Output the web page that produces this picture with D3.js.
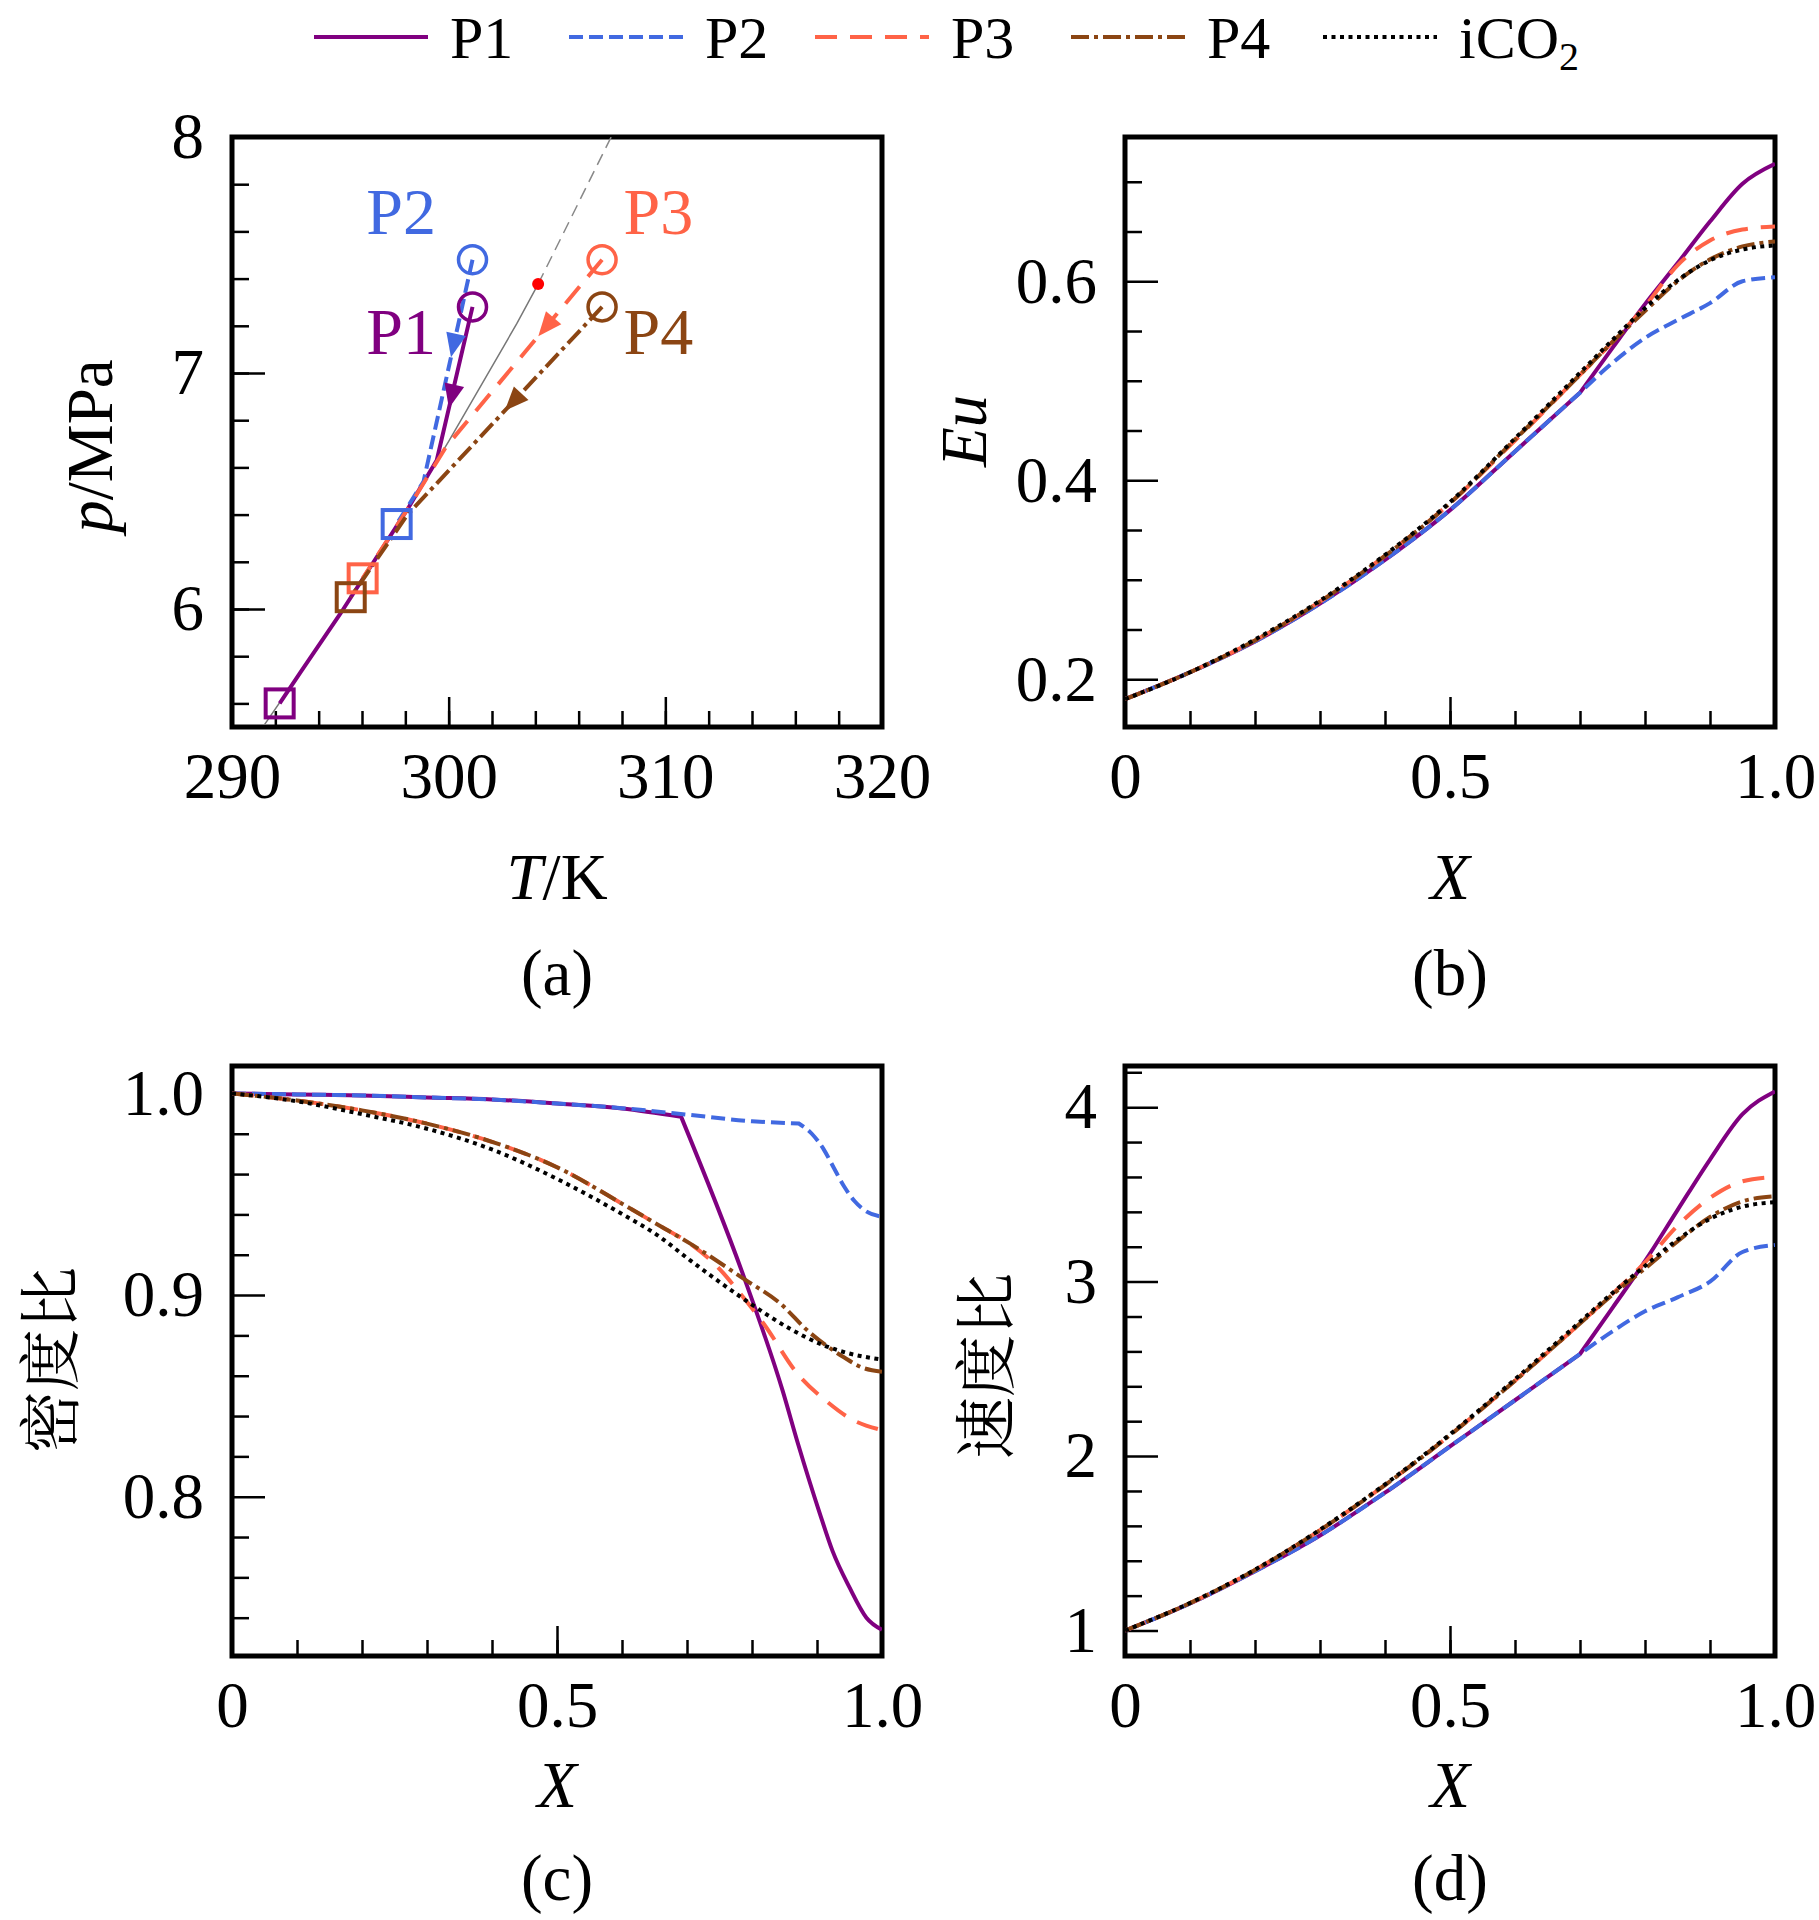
<!DOCTYPE html>
<html>
<head>
<meta charset="utf-8">
<script src="https://cdn.jsdelivr.net/npm/d3@7"></script>
<style>
  body { margin: 0; background: #fff; }
  text { font-family: "Liberation Serif", "Times New Roman", serif; fill: #000; }
</style>
</head>
<body>
<div id="chart"></div>
<script>
const svgWidth = 1819;
const svgHeight = 1920;

const names = ["P1", "P2", "P3", "P4", "iCO2"];
const colors = ["#800080", "#4169E1", "#FF6347", "#8B4513", "#000000"];
const dashes = [null, "14,6", "22,13", "18,5,4,5", "4,4.5"];

// (a) p-T diagram
const satT = [291.5, 293.15, 295.0, 298.15, 300.0, 303.15, 304.13];
const satP = [5.51, 5.73, 5.98, 6.43, 6.71, 7.21, 7.377];
const widomT = [304.13, 307.5];
const widomP = [7.377, 8.0];
const tP1 = [301.1, 299.45, 298.15, 295.0, 293.15, 292.2];
const pP1 = [7.28, 6.63, 6.43, 5.98, 5.73, 5.60];
const tP2 = [301.1, 298.84, 297.6];
const pP2 = [7.48, 6.54, 6.36];
const tP3 = [307.08, 299.9, 298.15, 296.03];
const pP3 = [7.48, 6.69, 6.43, 6.13];
const tP4 = [307.08, 298.1, 295.48];
const pP4 = [7.28, 6.40, 6.05];
const labelT = [296.2, 296.2, 308.07, 308.07];
const labelP = [7.08, 7.59, 7.59, 7.08];
const arrowFrac = [0.66, 0.44, 0.41, 0.5];

// (b) Eu
const xB = [0, 0.1, 0.2, 0.3, 0.4, 0.5, 0.6, 0.7, 0.75, 0.8, 0.85, 0.9, 0.95, 1.0];
const euP1 = [0.180, 0.207, 0.238, 0.276, 0.320, 0.370, 0.429, 0.488, 0.533, 0.577, 0.618, 0.660, 0.698, 0.718];
const euP2 = [0.180, 0.207, 0.238, 0.276, 0.320, 0.370, 0.429, 0.488, 0.518, 0.543, 0.561, 0.578, 0.600, 0.604];
const euP3 = [0.180, 0.207, 0.239, 0.278, 0.324, 0.377, 0.440, 0.506, 0.539, 0.575, 0.616, 0.641, 0.652, 0.655];
const euP4 = [0.180, 0.207, 0.239, 0.278, 0.324, 0.377, 0.441, 0.506, 0.539, 0.570, 0.600, 0.622, 0.635, 0.640];
const euCO2 = [0.180, 0.207, 0.240, 0.279, 0.325, 0.378, 0.442, 0.508, 0.541, 0.573, 0.601, 0.621, 0.632, 0.636];

// (c) density ratio
const xcP1 = [0, 0.1, 0.2, 0.3, 0.4, 0.5, 0.6, 0.691, 0.7875, 0.847, 0.871, 0.904, 0.924, 0.95, 0.976, 1.0];
const rhoP1 = [1.0, 0.9995, 0.999, 0.998, 0.997, 0.995, 0.9925, 0.9884, 0.909, 0.8527, 0.826, 0.792, 0.773, 0.755, 0.740, 0.734];
const xcP2 = [0, 0.1, 0.2, 0.3, 0.4, 0.5, 0.6, 0.7, 0.8, 0.872, 0.892, 0.911, 0.926, 0.942, 0.958, 0.973, 1.0];
const rhoP2 = [1.0, 0.9995, 0.999, 0.998, 0.997, 0.995, 0.9927, 0.9895, 0.9862, 0.9851, 0.980, 0.9719, 0.963, 0.9537, 0.9465, 0.9421, 0.9388];
const xcP3 = [0, 0.1, 0.2, 0.3, 0.4, 0.5, 0.607, 0.66, 0.705, 0.752, 0.782, 0.818, 0.870, 0.917, 0.95, 1.0];
const rhoP3 = [1.0, 0.9965, 0.9916, 0.985, 0.976, 0.9634, 0.944, 0.934, 0.9255, 0.9123, 0.9007, 0.8858, 0.861, 0.8467, 0.839, 0.833];
const xcP4 = [0, 0.1, 0.2, 0.3, 0.4, 0.5, 0.607, 0.66, 0.705, 0.7875, 0.844, 0.885, 0.942, 0.97, 1.0];
const rhoP4 = [1.0, 0.9965, 0.9916, 0.985, 0.976, 0.9634, 0.944, 0.934, 0.9255, 0.908, 0.8957, 0.8825, 0.869, 0.864, 0.862];
const xcCO2 = [0, 0.1, 0.2, 0.3, 0.4, 0.5, 0.601, 0.653, 0.705, 0.7875, 0.86, 0.911, 0.95, 1.0];
const rhoCO2 = [1.0, 0.9961, 0.9897, 0.9825, 0.9722, 0.9576, 0.940, 0.930, 0.9172, 0.898, 0.883, 0.875, 0.871, 0.868];

// (d) velocity ratio
const xD = [0, 0.1, 0.2, 0.3, 0.4, 0.5, 0.6, 0.7, 0.75, 0.8, 0.85, 0.9, 0.95, 1.0];
const uP1 = [1.0, 1.155, 1.34, 1.545, 1.79, 2.055, 2.32, 2.585, 2.85, 3.117, 3.41, 3.70, 3.96, 4.09];
const uP2 = [1.0, 1.155, 1.34, 1.545, 1.79, 2.055, 2.32, 2.585, 2.715, 2.83, 2.91, 3.00, 3.17, 3.21];
const uP3 = [1.0, 1.157, 1.347, 1.575, 1.834, 2.12, 2.432, 2.76, 2.93, 3.11, 3.32, 3.48, 3.575, 3.60];
const uP4 = [1.0, 1.157, 1.347, 1.575, 1.834, 2.12, 2.432, 2.76, 2.925, 3.075, 3.23, 3.37, 3.46, 3.49];
const uCO2 = [1.0, 1.158, 1.349, 1.578, 1.838, 2.125, 2.44, 2.77, 2.935, 3.09, 3.24, 3.36, 3.43, 3.455];

// index of the point where P1 / P2 leave the common curve (sharp corner)
const kinkB = [7, 7, null, null, null];
const kinkC = [7, 9, null, null, null];
const kinkD = [7, 7, null, null, null];

const pw = 650, ph = 590;
const tickFont = 65;

const svg = d3.select("#chart")
    .append("svg")
    .attr("width", svgWidth)
    .attr("height", svgHeight)
    .style("background", "#fff");

const zip = (xs, ys) => xs.map((v, i) => [v, ys[i]]);

function makePanel(id, left, top, cfg) {
    const g = svg.append("g").attr("transform", `translate(${left},${top})`);
    const x = d3.scaleLinear().domain(cfg.xDomain).range([0, pw]);
    const y = d3.scaleLinear().domain(cfg.yDomain).range([ph, 0]);

    svg.append("clipPath").attr("id", "clip-" + id)
        .append("rect").attr("x", left).attr("y", top).attr("width", pw).attr("height", ph);

    // minor ticks
    g.append("g").attr("transform", `translate(0,${ph})`)
        .call(d3.axisBottom(x).tickValues(cfg.xMinor).tickSize(-16).tickFormat(""));
    g.append("g")
        .call(d3.axisLeft(y).tickValues(cfg.yMinor).tickSize(-17).tickFormat(""));
    // major ticks with labels
    g.append("g").attr("transform", `translate(0,${ph})`)
        .call(d3.axisBottom(x).tickValues(cfg.xMajor).tickSize(-30).tickPadding(25).tickFormat(cfg.xFmt));
    g.append("g")
        .call(d3.axisLeft(y).tickValues(cfg.yMajor).tickSize(-33).tickPadding(28).tickFormat(cfg.yFmt));

    g.selectAll(".domain").remove();
    g.selectAll(".tick line").attr("stroke", "#000").attr("stroke-width", 2.5);
    g.selectAll(".tick text")
        .style("font-family", "'Liberation Serif','Times New Roman',serif")
        .style("font-size", tickFont + "px")
        .attr("fill", "#000");

    g.append("rect")
        .attr("width", pw).attr("height", ph)
        .attr("fill", "none").attr("stroke", "#000").attr("stroke-width", 5);

    const plot = svg.append("g").attr("clip-path", `url(#clip-${id})`)
        .append("g").attr("transform", `translate(${left},${top})`);

    return { g, x, y, plot };
}

function addText(parent, x, y, parts, opts) {
    const t = parent.append("text")
        .attr("x", x).attr("y", y)
        .attr("text-anchor", opts.anchor || "middle")
        .style("font-size", (opts.size || tickFont) + "px");
    if (opts.rotate) t.attr("transform", `rotate(-90,${x},${y})`);
    if (opts.family) t.style("font-family", opts.family);
    if (opts.baseline) t.attr("dominant-baseline", opts.baseline);
    parts.forEach(p => {
        const s = t.append("tspan").text(p.t);
        if (p.i) s.style("font-style", "italic");
    });
    return t;
}

// ---------- legend ----------
const legX = [314, 569, 815, 1071, 1323];
const legend = svg.append("g");
names.forEach((n, i) => {
    legend.append("line")
        .attr("x1", legX[i]).attr("x2", legX[i] + 114)
        .attr("y1", 37).attr("y2", 37)
        .attr("stroke", colors[i]).attr("stroke-width", 4)
        .attr("stroke-dasharray", dashes[i]);
    const t = legend.append("text")
        .attr("x", legX[i] + 136).attr("y", 58)
        .style("font-size", "60px");
    if (n === "iCO2") {
        t.append("tspan").text("iCO");
        t.append("tspan").attr("dy", 12).style("font-size", "40px").text("2");
    } else {
        t.text(n);
    }
});

const L1 = 232, L2 = 1125, T1 = 137, T2 = 1066;

// ---------- (a) ----------
const A = makePanel("a", L1, T1, {
    xDomain: [290, 320], yDomain: [5.5, 8.0],
    xMajor: [290, 300, 310, 320], xMinor: d3.range(292, 320, 2),
    yMajor: [6, 7, 8], yMinor: d3.range(5.6, 8.0, 0.2).map(v => +v.toFixed(1)),
    xFmt: d3.format("d"), yFmt: d3.format("d")
});
const lineA = d3.line().x(d => A.x(d[0])).y(d => A.y(d[1]));
A.plot.append("path").attr("d", lineA(zip(satT, satP)))
    .attr("fill", "none").attr("stroke", "#777").attr("stroke-width", 1.5);
A.plot.append("path").attr("d", lineA(zip(widomT, widomP)))
    .attr("fill", "none").attr("stroke", "#888").attr("stroke-width", 1.5)
    .attr("stroke-dasharray", "12,7");

const pathsA = [zip(tP1, pP1), zip(tP2, pP2), zip(tP3, pP3), zip(tP4, pP4)];
pathsA.forEach((pts, i) => {
    A.plot.append("path").attr("d", lineA(pts))
        .attr("fill", "none").attr("stroke", colors[i]).attr("stroke-width", 4)
        .attr("stroke-dasharray", dashes[i]);
});
pathsA.forEach((pts, i) => {
    const s = pts[0], e = pts[pts.length - 1];
    A.plot.append("circle")
        .attr("cx", A.x(s[0])).attr("cy", A.y(s[1])).attr("r", 14)
        .attr("fill", "none").attr("stroke", colors[i]).attr("stroke-width", 3.5);
    A.plot.append("rect")
        .attr("x", A.x(e[0]) - 14).attr("y", A.y(e[1]) - 14)
        .attr("width", 28).attr("height", 28)
        .attr("fill", "none").attr("stroke", colors[i]).attr("stroke-width", 4);
    // direction arrow on the first segment
    const x0 = A.x(pts[0][0]), y0 = A.y(pts[0][1]);
    const x1 = A.x(pts[1][0]), y1 = A.y(pts[1][1]);
    const f = arrowFrac[i];
    const ax = x0 + (x1 - x0) * f, ay = y0 + (y1 - y0) * f;
    const ang = Math.atan2(y1 - y0, x1 - x0) * 180 / Math.PI;
    A.plot.append("path")
        .attr("d", "M0,0L-24,-10L-24,10Z")
        .attr("transform", `translate(${ax},${ay}) rotate(${ang})`)
        .attr("fill", colors[i]);
    A.plot.append("text")
        .attr("x", A.x(labelT[i])).attr("y", A.y(labelP[i]))
        .style("font-size", "66px").style("fill", colors[i])
        .text(names[i]);
});
A.plot.append("circle")
    .attr("cx", A.x(widomT[0])).attr("cy", A.y(widomP[0])).attr("r", 6)
    .attr("fill", "#ff0000");

// ---------- (b), (c), (d) ----------
const xMinor01 = d3.range(1, 10).map(v => v / 10);
const fmtX = d => d === 0 ? "0" : d3.format(".1f")(d);

const B = makePanel("b", L2, T1, {
    xDomain: [0, 1], yDomain: [0.152, 0.745],
    xMajor: [0, 0.5, 1], xMinor: xMinor01,
    yMajor: [0.2, 0.4, 0.6], yMinor: [0.25, 0.3, 0.35, 0.45, 0.5, 0.55, 0.65, 0.7],
    xFmt: fmtX, yFmt: d3.format(".1f")
});
const C = makePanel("c", L1, T2, {
    xDomain: [0, 1], yDomain: [0.721, 1.0136],
    xMajor: [0, 0.5, 1], xMinor: xMinor01,
    yMajor: [0.8, 0.9, 1.0], yMinor: [0.74, 0.76, 0.78, 0.82, 0.84, 0.86, 0.88, 0.92, 0.94, 0.96, 0.98],
    xFmt: fmtX, yFmt: d3.format(".1f")
});
const D = makePanel("d", L2, T2, {
    xDomain: [0, 1], yDomain: [0.854, 4.236],
    xMajor: [0, 0.5, 1], xMinor: xMinor01,
    yMajor: [1, 2, 3, 4], yMinor: [1.2, 1.4, 1.6, 1.8, 2.2, 2.4, 2.6, 2.8, 3.2, 3.4, 3.6, 3.8, 4.2],
    xFmt: fmtX, yFmt: d3.format("d")
});

function drawSeries(P, sets, kinks) {
    const line = d3.line().curve(d3.curveMonotoneX)
        .x(d => P.x(d[0])).y(d => P.y(d[1]));
    sets.forEach((pts, i) => {
        const k = kinks[i];
        // smooth on each side of the corner, joined into one path
        const d = k == null ? line(pts)
            : line(pts.slice(0, k + 1)) + line(pts.slice(k)).replace(/^M/, "L");
        P.plot.append("path").attr("d", d)
            .attr("fill", "none").attr("stroke", colors[i])
            .attr("stroke-width", 4)
            .attr("stroke-dasharray", dashes[i]);
    });
}
drawSeries(B, [zip(xB, euP1), zip(xB, euP2), zip(xB, euP3), zip(xB, euP4), zip(xB, euCO2)], kinkB);
drawSeries(C, [zip(xcP1, rhoP1), zip(xcP2, rhoP2), zip(xcP3, rhoP3), zip(xcP4, rhoP4), zip(xcCO2, rhoCO2)], kinkC);
drawSeries(D, [zip(xD, uP1), zip(xD, uP2), zip(xD, uP3), zip(xD, uP4), zip(xD, uCO2)], kinkD);

// ---------- titles ----------
const cx1 = L1 + pw / 2, cx2 = L2 + pw / 2;
addText(svg, cx1, 899, [{ t: "T", i: true }, { t: "/K" }], {});
addText(svg, cx2, 899, [{ t: "X", i: true }], {});
addText(svg, cx1, 1807, [{ t: "X", i: true }], {});
addText(svg, cx2, 1807, [{ t: "X", i: true }], {});
addText(svg, cx1, 995, [{ t: "(a)" }], {});
addText(svg, cx2, 995, [{ t: "(b)" }], {});
addText(svg, cx1, 1900, [{ t: "(c)" }], {});
addText(svg, cx2, 1900, [{ t: "(d)" }], {});

addText(svg, 112, 446, [{ t: "p", i: true }, { t: "/MPa" }], { rotate: true });
addText(svg, 986, 431, [{ t: "Eu", i: true }], { rotate: true });
addText(svg, 46, 1360, [{ t: "密度比" }], {
    rotate: true, size: 62, baseline: "central",
    family: "'Noto Serif CJK SC','Noto Sans CJK SC',serif"
});
addText(svg, 982, 1366, [{ t: "速度比" }], {
    rotate: true, size: 62, baseline: "central",
    family: "'Noto Serif CJK SC','Noto Sans CJK SC',serif"
});
</script>
</body>
</html>
